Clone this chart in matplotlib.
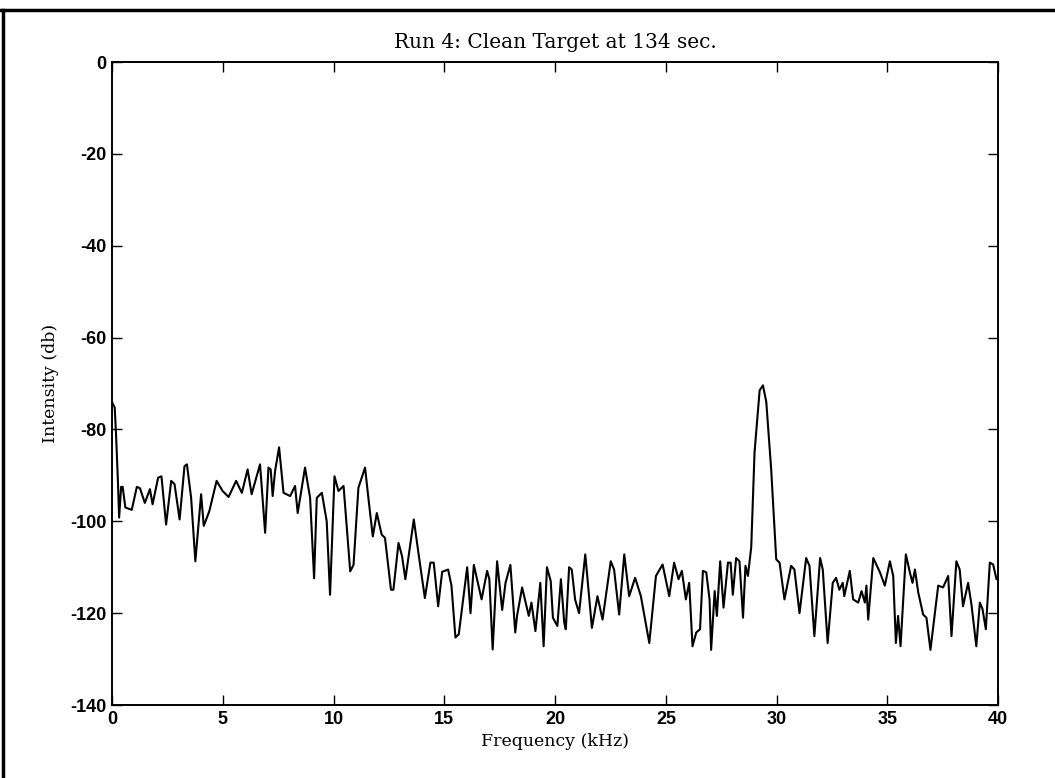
import matplotlib
matplotlib.use("Agg")
import matplotlib.pyplot as plt
from matplotlib.lines import Line2D

plt.rcParams['axes.unicode_minus'] = False

# spectrum (kHz, dB)
freq = [0.0, 0.12, 0.18, 0.27, 0.32, 0.41, 0.48, 0.6, 0.89, 1.12, 1.26, 1.48, 1.71, 1.83,
        2.08, 2.23, 2.44, 2.67, 2.82, 3.05, 3.27, 3.38, 3.57, 3.76, 4.02, 4.14, 4.39, 4.72,
        4.99, 5.26, 5.6, 5.86, 6.12, 6.3, 6.68, 6.91, 7.06, 7.16, 7.25, 7.36, 7.54, 7.74,
        8.04, 8.26, 8.38, 8.71, 8.94, 9.12, 9.24, 9.47, 9.69, 9.84, 10.04, 10.22, 10.45,
        10.75, 10.9, 11.12, 11.42, 11.57, 11.77, 11.95, 12.17, 12.32, 12.59, 12.7, 12.93,
        13.09, 13.24, 13.62, 13.85, 14.12, 14.37, 14.52, 14.72, 14.9, 15.17, 15.32, 15.5,
        15.65, 16.03, 16.18, 16.33, 16.68, 16.93, 17.03, 17.18, 17.38, 17.61, 17.76, 17.98,
        18.2, 18.28, 18.51, 18.81, 18.93, 19.11, 19.33, 19.48, 19.63, 19.8, 19.9, 20.1,
        20.26, 20.41, 20.48, 20.63, 20.75, 20.9, 21.08, 21.36, 21.66, 21.91, 22.14, 22.51,
        22.66, 22.89, 23.12, 23.34, 23.61, 23.87, 24.25, 24.55, 24.85, 25.15, 25.37, 25.57,
        25.72, 25.9, 26.05, 26.2, 26.37, 26.54, 26.67, 26.82, 26.97, 27.04, 27.2, 27.3,
        27.45, 27.6, 27.8, 27.92, 28.02, 28.17, 28.32, 28.48, 28.59, 28.7, 28.85, 29.0,
        29.23, 29.38, 29.53, 29.75, 29.98, 30.13, 30.35, 30.65, 30.8, 31.03, 31.33, 31.48,
        31.7, 31.96, 32.08, 32.3, 32.53, 32.68, 32.83, 32.98, 33.05, 33.3, 33.45, 33.68,
        33.83, 33.98, 34.05, 34.13, 34.36, 34.66, 34.88, 35.11, 35.26, 35.38, 35.48, 35.59,
        35.83, 36.01, 36.13, 36.24, 36.39, 36.61, 36.76, 36.94, 37.09, 37.29, 37.51, 37.74,
        37.89, 38.11, 38.26, 38.41, 38.64, 38.79, 39.01, 39.17, 39.29, 39.44, 39.62, 39.77,
        39.92, 40.0]
intensity = [-74.1, -75.2, -81, -91.9, -99.2, -92.5, -92.5, -97, -97.5, -92.5, -92.8, -96, -93, -96.3,
             -90.5, -90.2, -100.7, -91.2, -91.9, -99.6, -88, -87.6, -94.9, -108.7, -94.1, -101, -97.8, -91.2,
             -93.4, -94.7, -91.2, -93.8, -88.7, -94.1, -87.6, -102.5, -88.3, -88.7, -94.5, -89, -83.9, -93.8,
             -94.5, -92.3, -98.2, -88.3, -94.9, -112.4, -94.9, -93.8, -100, -116, -90.2, -93.4, -92.3,
             -110.9, -109.5, -92.7, -88.3, -94.9, -103.3, -98.2, -102.9, -103.6, -114.9, -114.9, -104.7,
             -107.6, -112.6, -99.6, -107.6, -116.7, -109, -109, -118.5, -111, -110.5, -114, -125.3,
             -124.6, -110, -120, -109.5, -117, -110.8, -112.6, -127.9, -108.7, -119.3, -113.4, -109.5,
             -124.2, -120.6, -114.4, -120.6, -117.7, -123.9, -113.4, -127.2, -110, -113, -121, -122.8,
             -112.6, -122, -123.5, -110, -110.5, -117, -120, -107.2, -123.2, -116.3, -121.4, -108.7,
             -110.5, -120.3, -107.2, -116.3, -112.3, -116.3, -126.5, -111.9, -109.4, -116.3, -109, -112.6,
             -110.8, -117, -113.4, -127.2, -124.2, -123.5, -110.8, -111.1, -117, -128, -115.2, -120.6,
             -108.7, -118.8, -109, -109, -116, -108, -108.7, -121, -109.7, -111.9, -105.7, -85,
             -71.5, -70.4, -74, -88.6, -108.3, -109, -117, -109.7, -110.5, -120, -108, -109.7,
             -125, -108, -110.5, -126.5, -113.4, -112.3, -114.9, -113.4, -116.3, -110.8, -117, -117.7,
             -115.2, -117.7, -114, -121.4, -108, -111.1, -114, -108.7, -111.9, -126.5, -120.6, -127.2,
             -107.2, -111.1, -113.4, -110.5, -115.5, -120.3, -121, -128, -122, -114, -114.4, -111.9,
             -125, -108.7, -110.5, -118.5, -113.4, -118.1, -127.2, -117.7, -119.1, -123.5, -109, -109.4,
             -112.6, -112]

xticks = [0, 5, 10, 15, 20, 25, 30, 35, 40]
yticks = [0, -20, -40, -60, -80, -100, -120, -140]

fig = plt.figure(figsize=(10.55, 7.78), dpi=100)
ax = fig.add_axes([0.1062, 0.0938, 0.8400, 0.8265])

ax.plot(freq, intensity, color='black', lw=1.5)
ax.set_xlim(0, 40)
ax.set_ylim(-140, 0)
ax.set_xticks(xticks)
ax.set_yticks(yticks)
ax.tick_params(direction='in', length=7, width=1, top=True, right=True, pad=4)
for lab in ax.get_xticklabels() + ax.get_yticklabels():
    lab.set_fontfamily(['Liberation Sans Narrow', 'Liberation Sans'])
    lab.set_fontweight('bold')
    lab.set_fontsize(13)
for s in ax.spines.values():
    s.set_linewidth(1.4)

ax.set_title("Run 4: Clean Target at 134 sec.", family='DejaVu Serif', fontsize=14.5, pad=10)
ax.set_xlabel("Frequency (kHz)", family='DejaVu Serif', fontsize=12.5, labelpad=4)
ax.set_ylabel("Intensity (db)", family='DejaVu Serif', fontsize=12.5, labelpad=8)

# scan frame edges
fig.add_artist(Line2D([0, 1], [0.987, 0.987], color='black', lw=2.5, transform=fig.transFigure))
fig.add_artist(Line2D([0.003, 0.003], [0, 0.987], color='black', lw=2.5, transform=fig.transFigure))

fig.savefig("out.png", dpi=100)
